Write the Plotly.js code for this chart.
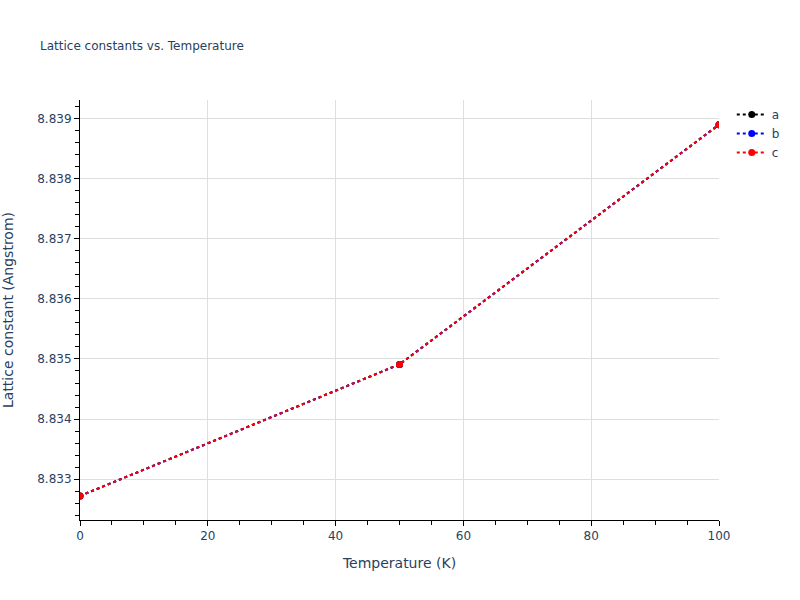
<!DOCTYPE html>
<html>
<head>
<meta charset="utf-8">
<script src="https://cdn.plot.ly/plotly-3.0.1.min.js"></script>
<style>html,body{margin:0;padding:0;background:#fff;}#chart{width:800px;height:600px;}</style>
</head>
<body>
<div id="chart"></div>
<script>
const temperature = [0, 50, 100];
const latticeA = [8.83272, 8.83491, 8.83890];
const latticeB = [8.83272, 8.83491, 8.83890];
const latticeC = [8.83272, 8.83491, 8.83890];
const seriesNames = ['a', 'b', 'c'];
const seriesColors = ['black', 'blue', 'red'];

const seriesValues = [latticeA, latticeB, latticeC];
const traces = seriesValues.map((vals, i) => ({
  x: temperature,
  y: vals,
  name: seriesNames[i],
  type: 'scatter',
  mode: 'lines+markers',
  line: {color: seriesColors[i], dash: 'dot', width: 2},
  marker: {color: seriesColors[i], size: 7}
}));

const axisCommon = {
  showline: true,
  linecolor: 'black',
  linewidth: 1,
  ticks: 'outside',
  tickcolor: 'black',
  ticklen: 5,
  gridcolor: '#dedede',
  gridwidth: 1,
  zeroline: false,
  tickfont: {size: 12, color: '#2a3f5f'}
};

const layout = {
  width: 800,
  height: 600,
  paper_bgcolor: 'white',
  plot_bgcolor: 'white',
  font: {family: '"DejaVu Sans", Verdana, sans-serif', color: '#2a3f5f', size: 12},
  title: {text: 'Lattice constants vs. Temperature', font: {size: 12}, x: 0.05, xanchor: 'left', y: 0.923, yanchor: 'middle'},
  margin: {l: 80, r: 81, t: 100, b: 80},
  showlegend: true,
  legend: {x: 1.02, y: 1, xanchor: 'left', yanchor: 'top', font: {size: 12}},
  xaxis: Object.assign({}, axisCommon, {
    title: {text: 'Temperature (K)', font: {size: 14}, standoff: 15},
    range: [0, 100],
    dtick: 20,
    minor: {dtick: 5, ticks: 'outside', ticklen: 4, tickcolor: 'black', showgrid: false}
  }),
  yaxis: Object.assign({}, axisCommon, {
    title: {text: 'Lattice constant (Angstrom)', font: {size: 14}, standoff: 20},
    range: [8.83232, 8.83931],
    dtick: 0.001,
    tickformat: '.3f',
    minor: {dtick: 0.0002, ticks: 'outside', ticklen: 4, tickcolor: 'black', showgrid: false}
  })
};

Plotly.newPlot('chart', traces, layout, {displayModeBar: false});
</script>
</body>
</html>
